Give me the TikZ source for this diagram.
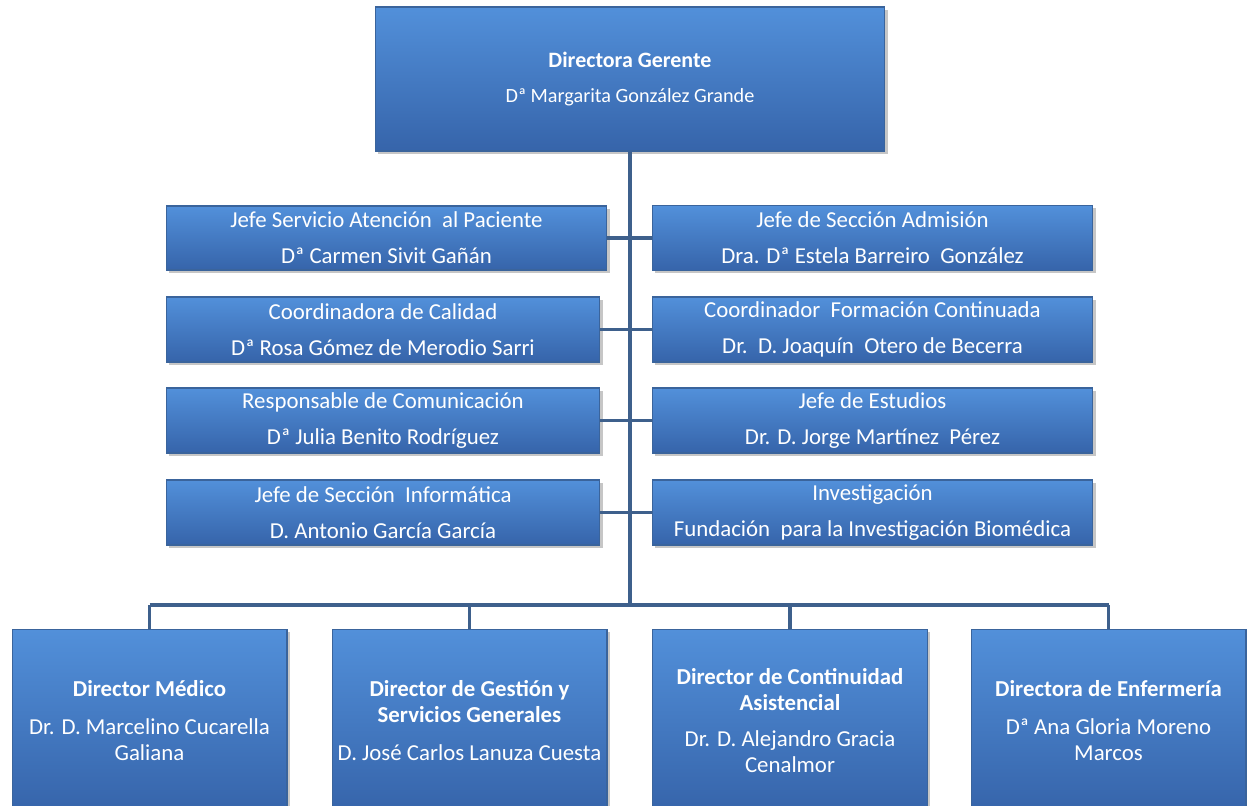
\documentclass[tikz,border=0pt]{standalone}
\usepackage{fontspec}
\setmainfont{Carlito}
\usepackage{tikz}
\usetikzlibrary{shadows,calc}

\definecolor{boxtop}{RGB}{82,144,218}
\definecolor{boxbot}{RGB}{54,100,170}
\definecolor{boxline}{RGB}{58,100,156}
\definecolor{linea}{RGB}{62,96,140}

\begin{document}
\begin{tikzpicture}[x=0.02cm,y=-0.02cm,
  caja/.style={rectangle,inner sep=0pt,draw=boxline,line width=0.6pt,
    top color=boxtop,bottom color=boxbot,text=white,align=center,
    drop shadow={opacity=0.45,shadow xshift=1.5pt,shadow yshift=-1.5pt}},
  media/.style={caja,minimum height=1.3cm,font=\fontsize{13}{20.5}\selectfont},
  baja/.style={caja,minimum width=5.5cm,minimum height=3.66cm,font=\fontsize{13}{14.8}\selectfont},
  conn/.style={draw=linea,line width=2.2pt}]
\useasboundingbox (0,0) rectangle (1247,805);

  % dirección
  \node[caja,minimum width=10.2cm,minimum height=2.88cm,font=\fontsize{11.5}{20}\selectfont] (dg) at (630,79)
    {{\fontsize{12.5}{20}\selectfont\textbf{Directora Gerente}}\\ Dª Margarita González Grande};

  \coordinate (bus) at (630,605);

  % staff
  \node[media,minimum width=8.82cm,minimum height=1.28cm] (l1) at (386.5,238)
    {Jefe Servicio Atención\ \ al Paciente\\ Dª Carmen Sivit Gañán};
  \node[media,minimum width=8.68cm] (l2) at (383,329.5)
    {Coordinadora de Calidad\\ Dª Rosa Gómez de Merodio Sarri};
  \node[media,minimum width=8.68cm] (l3) at (383,420.5)
    {Responsable de Comunicación\\ Dª Julia Benito Rodríguez};
  \node[media,minimum width=8.68cm] (l4) at (383,512.5)
    {Jefe de Sección\ \ Informática\\ D. Antonio García García};

  \node[media,minimum width=8.82cm] (r1) at (872.5,238)
    {Jefe de Sección Admisión\\ Dra. Dª Estela Barreiro\ \ González};
  \node[media,minimum width=8.82cm] (r2) at (872.5,329.5)
    {Coordinador\ \ Formación Continuada\\ Dr.\ \ D. Joaquín\ \ Otero de Becerra};
  \node[media,minimum width=8.82cm] (r3) at (872.5,420.5)
    {Jefe de Estudios\\ Dr. D. Jorge Martínez\ \ Pérez};
  \node[media,minimum width=8.82cm] (r4) at (872.5,512.5)
    {Investigación\\ Fundación\ \ para la Investigación Biomédica};

  % direcciones
  \node[baja] (b1) at (149.5,720.5)
    {\textbf{Director Médico}\\[7pt] Dr. D. Marcelino Cucarella\\ Galiana};
  \node[baja] (b2) at (469.5,720.5)
    {\textbf{Director de Gestión y}\\ \textbf{Servicios Generales}\\[7pt] D. José Carlos Lanuza Cuesta};
  \node[baja] (b3) at (790,720.5)
    {\textbf{Director de Continuidad}\\ \textbf{Asistencial}\\[6pt] Dr. D. Alejandro Gracia\\ Cenalmor};
  \node[baja] (b4) at (1108.5,720.5)
    {\textbf{Directora de Enfermería}\\[7pt] Dª Ana Gloria Moreno\\ Marcos};

  % líneas
  \draw[conn] (dg.south) -- (bus);
  \foreach \i in {1,...,4}
    \draw[conn] (l\i.east) -- (r\i.west);
  \draw[conn] (b1.north |- bus) -- (b4.north |- bus);
  \foreach \n in {b1,b2,b3,b4}
    \draw[conn] (\n.north) -- (\n.north |- bus);

\end{tikzpicture}
\end{document}
